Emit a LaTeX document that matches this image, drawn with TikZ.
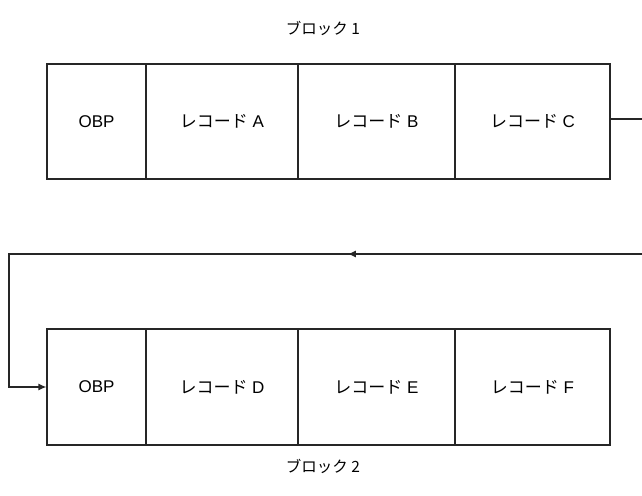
\documentclass[tikz,border=0pt]{standalone}
\usepackage{fontspec}
\setmainfont{Liberation Sans}
\newfontfamily\jp{Noto Sans CJK JP}
\usetikzlibrary{arrows.meta,decorations.markings}
\tikzset{
  cell/.style={draw=black!85, line width=1.2pt, minimum height=115pt, inner sep=0pt, font=\fontsize{17}{19}\selectfont},
  conn/.style={draw=black!85, line width=1.2pt},
  tip/.style={-{Latex[length=8pt,width=7pt]}},
  midarrow/.style={postaction={decorate}, decoration={markings, mark=at position 0.38 with {\arrow{Latex[length=8pt,width=7pt]}}}},
  blk/.style={font=\jp\fontsize{15.5}{18}\selectfont}
}
\begin{document}
\begin{tikzpicture}[x=1pt,y=-1pt]
\useasboundingbox (0,0) rectangle (642,495);
\clip (0,0) rectangle (642,495);
\node[blk] (t1) at (323,28) {ブロック 1};
\node[blk] (t2) at (323,466) {ブロック 2};
% top row
\node[cell, minimum width=99pt]  (p1) at (96.5,121.5) {OBP};
\node[cell, minimum width=152pt] (a)  at (222,121.5)  {{\jp レコード} A};
\node[cell, minimum width=157pt] (b)  at (376.5,121.5) {{\jp レコード} B};
\node[cell, minimum width=155pt] (c)  at (532.5,121.5) {{\jp レコード} C};
% bottom row
\node[cell, minimum width=99pt, minimum height=116pt]  (p2) at (96.5,387) {OBP};
\node[cell, minimum width=152pt, minimum height=116pt] (d)  at (222,387)  {{\jp レコード} D};
\node[cell, minimum width=157pt, minimum height=116pt] (e)  at (376.5,387) {{\jp レコード} E};
\node[cell, minimum width=155pt, minimum height=116pt] (f)  at (532.5,387) {{\jp レコード} F};
% connectors
\coordinate (r1) at (660,119);
\coordinate (r2) at (660,254);
\coordinate (l) at (9,254);
\draw[conn] (c.east |- r1) -- (r1);
\draw[conn, tip, midarrow, line join=miter] (r2) -- (l) |- (p2.west);
\end{tikzpicture}
\end{document}
